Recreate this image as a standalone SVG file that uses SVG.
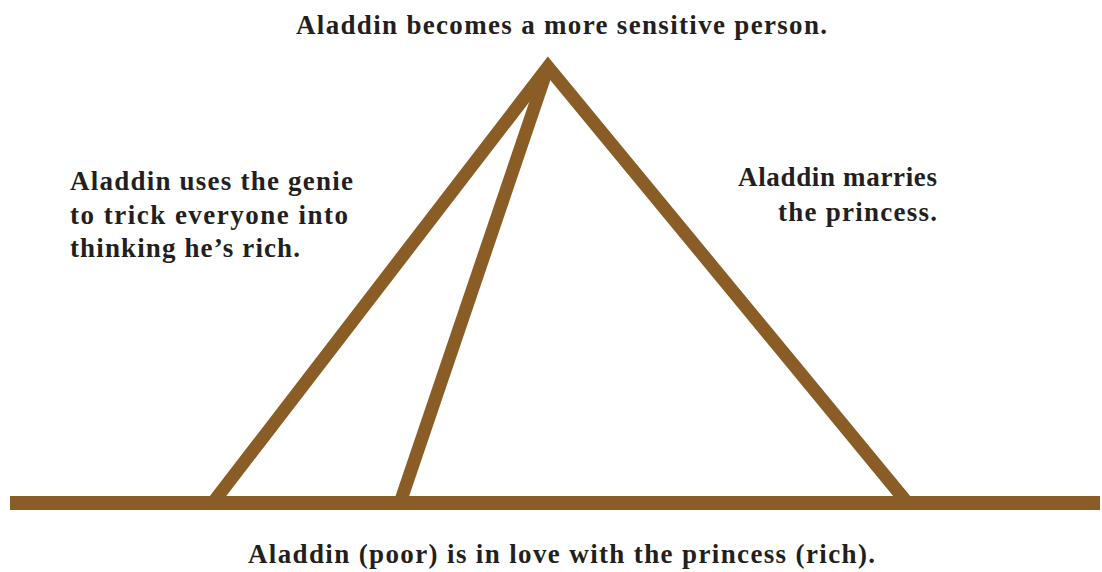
<svg xmlns="http://www.w3.org/2000/svg" width="1102" height="572" viewBox="0 0 1102 572">
<style>
.ln{stroke:#8a5d26;stroke-width:13;fill:none;stroke-linejoin:miter;stroke-linecap:butt}
.t{font-family:"Liberation Serif",serif;font-weight:bold;font-size:27px;fill:#231f20;letter-spacing:1px}
</style>
<rect width="1102" height="572" fill="#fff"/>
<g id="connectors">
<line class="ln" x1="10" y1="503" x2="1100" y2="503" style="stroke-width:14"/>
<polyline class="ln" points="215,500 548,67 905,500"/>
<line class="ln" x1="548" y1="67" x2="401" y2="500"/>
</g>
<g id="top"><text class="t" x="296" y="34" textLength="532" lengthAdjust="spacing">Aladdin becomes a more sensitive person.</text></g>
<g id="left">
<text class="t" x="70" y="190" textLength="284" lengthAdjust="spacing">Aladdin uses the genie</text>
<text class="t" x="70" y="224" textLength="279" lengthAdjust="spacing">to trick everyone into</text>
<text class="t" x="70" y="257" textLength="231" lengthAdjust="spacing">thinking he’s rich.</text>
</g>
<g id="right">
<text class="t" x="738" y="186" textLength="200" lengthAdjust="spacing">Aladdin marries</text>
<text class="t" x="778" y="221" textLength="160" lengthAdjust="spacing">the princess.</text>
</g>
<g id="bottom"><text class="t" x="248" y="563" textLength="628" lengthAdjust="spacing">Aladdin (poor) is in love with the princess (rich).</text></g>
</svg>
